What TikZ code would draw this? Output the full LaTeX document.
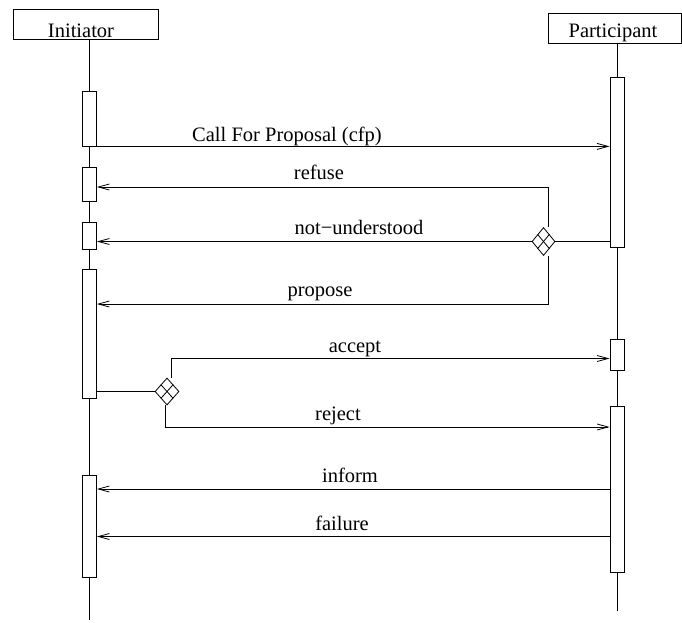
\documentclass[tikz,border=0pt]{standalone}
\usepackage{fontspec}
\setmainfont{Liberation Serif}
\usetikzlibrary{arrows.meta,shapes.geometric,calc}

% lifeline activation bar: name, x, top, bottom
\newcommand{\actbar}[4]{\node[bar, minimum height={#4-#3}] (#1) at (#2,{(#3+#4)/2}) {};}

\tikzset{
  actor/.style={draw, minimum height=30pt, inner sep=0pt},
  bar/.style={draw, fill=white, minimum width=14pt, inner sep=0pt},
  msg/.style={-{Straight Barb[length=11pt,width=6pt]}},
  msgtext/.style={anchor=base, inner sep=0pt},
  choice/.style={draw, diamond, fill=white, inner sep=0pt},
}

\begin{document}
\begin{tikzpicture}[x=1pt,y=-1pt,line width=0.8pt,
  every node/.style={font=\fontsize{20.5}{24}\selectfont}]

\useasboundingbox (0,0) rectangle (682,622);

% actors
\node[actor, minimum width=145pt] (init) at (85.5,24) {};
\node[anchor=base] (initname) at (81,37) {Initiator};
\node[actor, minimum width=133pt] (part) at (614.5,28) {};
\node[anchor=base] (partname) at (613,37) {Participant};

% lifelines
\draw (init.south -| 89.5,0) -- (89.5,620);
\draw (part.south -| 617,0) -- (617,611);

% activation bars
\actbar{a1}{89.5}{91}{146}
\actbar{a2}{89.5}{167}{201}
\actbar{a3}{89.5}{222}{249}
\actbar{a4}{89.5}{269}{398}
\actbar{a5}{89.5}{475}{577}
\actbar{p1}{617}{77}{247}
\actbar{p2}{617}{339}{370}
\actbar{p3}{617}{406}{572}

% choice points
\node[choice, minimum width=23pt, minimum height=28pt] (d1) at (543.5,241.5) {};
\node[choice, minimum width=24pt, minimum height=27pt] (d2) at (167,391.5) {};
\foreach \d in {d1,d2}{
  \draw ($(\d.north)!.5!(\d.east)$) -- ($(\d.south)!.5!(\d.west)$)
        ($(\d.north)!.5!(\d.west)$) -- ($(\d.south)!.5!(\d.east)$);
}

% messages
\draw[msg] (a1.south east) -- (a1.south east -| p1.west);
\draw[msg] ([xshift=4.5pt]d1.north) |- (a2.east |- 0,187);
\draw (p1.west |- d1.east) -- (d1.east);
\draw[msg] (d1.west) -- (d1.west -| a3.east);
\draw[msg] ([xshift=4.5pt]d1.south) |- (a4.east |- 0,304);
\draw (a4.east |- d2.west) -- (d2.west);
\draw[msg] ([xshift=4pt]d2.north) |- (p2.west |- 0,358.5);
\draw[msg] ([xshift=-2pt]d2.south) |- (p3.west |- 0,427);
\draw[msg] (p3.west |- 0,489) -- (a5.east |- 0,489);
\draw[msg] (p3.west |- 0,536.5) -- (a5.east |- 0,536.5);

% message labels
\node[msgtext] (cfp) at (287,141.7) {Call For Proposal (cfp)};
\node[msgtext] (refuse) at (319,179.3) {refuse};
\node[msgtext] (notund) at (359,234) {not−understood};
\node[msgtext] (propose) at (320,296) {propose};
\node[msgtext] (accept) at (355,352) {accept};
\node[msgtext] (reject) at (338,420) {reject};
\node[msgtext] (inform) at (350,482) {inform};
\node[msgtext] (failure) at (342,530) {failure};

\end{tikzpicture}
\end{document}
